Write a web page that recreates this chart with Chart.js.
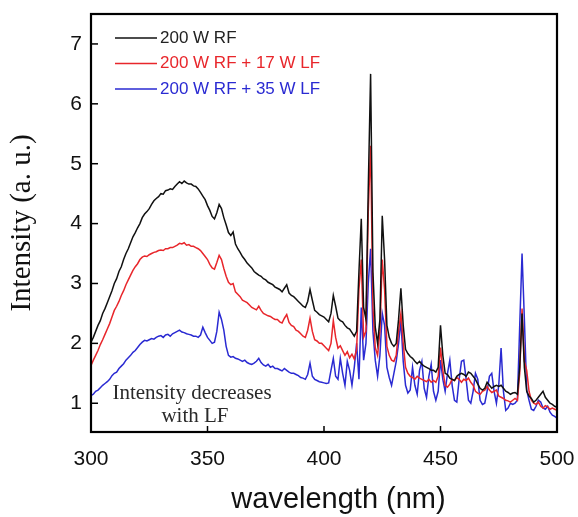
<!DOCTYPE html>
<html>
<head>
<meta charset="utf-8">
<script src="https://cdn.jsdelivr.net/npm/chart.js@4.4.1/dist/chart.umd.min.js"></script>
<style>
  body { margin: 0; background: #fff; }
  canvas { display: block; }
</style>
</head>
<body>
<canvas id="spectrumChart" width="578" height="517"></canvas>
<script>
// Wavelength grid (nm)
const wavelengths = [
    300,301,302,303,304,305,306,307,308,309,
    310,311,312,313,314,315,316,317,318,319,
    320,321,322,323,324,325,326,327,328,329,
    330,331,332,333,334,335,336,337,338,339,
    340,341,342,343,344,345,346,347,348,349,
    350,351,352,353,354,355,356,357,358,359,
    360,361,362,363,364,365,366,367,368,369,
    370,371,372,373,374,375,376,377,378,379,
    380,381,382,383,384,385,386,387,388,389,
    390,391,392,393,394,395,396,397,398,399,
    400,401,402,403,404,405,406,407,408,409,
    410,411,412,413,414,415,416,417,418,419,
    420,421,422,423,424,425,426,427,428,429,
    430,431,432,433,434,435,436,437,438,439,
    440,441,442,443,444,445,446,447,448,449,
    450,451,452,453,454,455,456,457,458,459,
    460,461,462,463,464,465,466,467,468,469,
    470,471,472,473,474,475,476,477,478,479,
    480,481,482,483,484,485,486,487,488,489,
    490,491,492,493,494,495,496,497,498,499,
    500
];

// 200 W RF
const rfOnly = [
    2.02,2.10,2.20,2.30,2.38,2.50,2.58,2.68,2.78,2.88,
    3.00,3.08,3.20,3.28,3.40,3.50,3.58,3.68,3.78,3.85,
    3.93,4.00,4.10,4.16,4.20,4.25,4.32,4.38,4.42,4.45,
    4.50,4.49,4.55,4.56,4.58,4.57,4.62,4.66,4.70,4.67,
    4.71,4.68,4.66,4.66,4.63,4.62,4.58,4.52,4.46,4.40,
    4.30,4.22,4.12,4.08,4.18,4.32,4.25,4.10,3.98,3.85,
    3.80,3.86,3.66,3.58,3.52,3.45,3.40,3.34,3.30,3.26,
    3.20,3.17,3.14,3.12,3.08,3.06,3.02,3.00,2.98,2.94,
    2.92,2.90,2.86,2.92,2.98,2.84,2.80,2.78,2.74,2.70,
    2.66,2.62,2.60,2.70,2.90,2.72,2.55,2.52,2.48,2.46,
    2.44,2.40,2.36,2.50,2.80,2.62,2.42,2.38,2.36,2.30,
    2.26,2.24,2.18,2.12,2.20,3.20,4.08,2.60,2.40,4.60,
    6.50,3.20,2.27,2.00,2.40,4.13,3.40,2.30,2.10,2.00,
    1.95,2.00,2.40,2.92,2.30,1.90,1.83,1.78,1.75,1.70,
    1.66,1.70,1.65,1.62,1.60,1.58,1.55,1.55,1.52,1.60,
    2.30,1.80,1.50,1.48,1.42,1.40,1.38,1.45,1.48,1.50,
    1.48,1.45,1.52,1.50,1.45,1.40,1.32,1.25,1.22,1.25,
    1.35,1.30,1.25,1.28,1.30,1.28,1.30,1.25,1.20,1.18,
    1.15,1.17,1.18,1.15,1.60,2.50,1.60,1.20,1.12,1.08,
    1.02,1.05,1.10,1.15,1.20,1.10,1.05,1.00,0.98,0.95,
    0.93
];

// 200 W RF + 17 W LF
const rfLf17 = [
    1.63,1.72,1.80,1.88,1.98,2.06,2.15,2.24,2.33,2.44,
    2.55,2.62,2.70,2.80,2.88,2.98,3.06,3.14,3.22,3.28,
    3.33,3.40,3.44,3.46,3.45,3.48,3.50,3.52,3.53,3.55,
    3.56,3.55,3.58,3.58,3.60,3.60,3.62,3.64,3.67,3.66,
    3.68,3.64,3.65,3.62,3.62,3.60,3.58,3.55,3.50,3.45,
    3.40,3.32,3.26,3.24,3.35,3.47,3.40,3.25,3.12,3.02,
    2.98,3.00,2.86,2.82,2.78,2.72,2.70,2.68,2.64,2.60,
    2.58,2.56,2.62,2.55,2.50,2.48,2.46,2.45,2.42,2.40,
    2.40,2.36,2.34,2.42,2.48,2.35,2.30,2.28,2.22,2.20,
    2.16,2.12,2.10,2.22,2.42,2.20,2.06,2.04,2.00,2.00,
    1.96,1.92,1.88,2.00,2.38,2.10,1.92,1.96,1.88,1.80,
    1.86,1.76,1.82,1.74,1.90,2.90,3.40,2.10,2.20,4.20,
    5.30,2.60,1.93,1.80,2.20,3.40,2.90,1.95,1.80,1.72,
    1.70,1.80,2.20,2.50,2.00,1.60,1.50,1.45,1.43,1.40,
    1.45,1.42,1.40,1.38,1.36,1.40,1.35,1.38,1.35,1.45,
    1.93,1.55,1.30,1.27,1.32,1.40,1.38,1.43,1.40,1.35,
    1.40,1.38,1.42,1.35,1.30,1.20,1.17,1.15,1.20,1.22,
    1.28,1.22,1.18,1.20,1.22,1.12,1.10,1.08,1.05,1.04,
    1.02,1.05,1.08,1.05,1.50,2.58,1.70,1.55,1.20,1.05,
    1.00,0.98,1.02,0.95,0.92,0.96,0.94,0.90,0.92,0.90,
    0.88
];

// 200 W RF + 35 W LF
const rfLf35 = [
    1.13,1.15,1.20,1.22,1.26,1.30,1.33,1.36,1.40,1.46,
    1.50,1.52,1.58,1.62,1.66,1.72,1.76,1.80,1.85,1.88,
    1.93,1.98,2.02,2.05,2.04,2.06,2.08,2.07,2.10,2.12,
    2.13,2.10,2.14,2.15,2.12,2.16,2.18,2.20,2.22,2.19,
    2.18,2.16,2.15,2.14,2.12,2.12,2.10,2.14,2.27,2.18,
    2.10,2.05,2.00,2.02,2.20,2.52,2.40,2.22,1.95,1.80,
    1.77,1.78,1.75,1.74,1.72,1.70,1.72,1.68,1.66,1.65,
    1.67,1.70,1.75,1.68,1.64,1.62,1.65,1.60,1.62,1.58,
    1.58,1.56,1.54,1.58,1.55,1.52,1.50,1.50,1.48,1.46,
    1.43,1.42,1.40,1.48,1.67,1.45,1.40,1.38,1.36,1.35,
    1.34,1.33,1.34,1.55,1.75,1.45,1.40,1.75,1.50,1.30,
    1.70,1.55,1.30,1.60,2.00,1.40,2.60,1.72,2.00,3.00,
    3.58,2.20,1.72,1.45,1.80,2.50,2.30,1.60,1.43,1.30,
    1.50,1.70,2.00,2.38,1.70,1.30,1.17,1.22,1.60,1.30,
    1.15,1.55,1.70,1.25,1.10,1.45,1.65,1.20,1.05,1.20,
    1.72,1.40,1.20,1.50,1.72,1.30,1.05,1.02,1.40,1.70,
    1.72,1.40,1.05,1.00,1.20,1.50,1.40,1.05,0.98,1.00,
    1.20,1.45,1.50,1.20,1.00,1.30,1.92,1.20,0.88,0.92,
    1.00,0.98,1.00,1.05,2.30,3.50,2.40,1.22,1.05,0.90,
    0.88,0.95,1.05,1.02,0.92,0.90,0.95,0.85,0.80,0.78,
    0.75
];

const seriesLabels = ['200 W RF', '200 W RF + 17 W LF', '200 W RF + 35 W LF'];
const seriesColors = ['#111111', '#e8262b', '#2a2ad2'];
const xTicks = [300, 350, 400, 450, 500];
const yTicks = [1, 2, 3, 4, 5, 6, 7];
const noteLines = ['Intensity decreases', 'with LF'];

function toPoints(values) {
    return values.map((v, i) => ({ x: wavelengths[i], y: v }));
}

// frame, inward ticks, legend and note
const decorPlugin = {
    id: 'decor',
    afterDatasetsDraw(chart) {
        const ctx = chart.ctx;
        const area = chart.chartArea;
        const xs = chart.scales.x;
        const ys = chart.scales.y;
        ctx.save();
        ctx.strokeStyle = '#000';
        ctx.lineWidth = 1.5;
        xTicks.forEach(t => {
            const px = xs.getPixelForValue(t);
            ctx.beginPath();
            ctx.moveTo(px, area.bottom);
            ctx.lineTo(px, area.bottom - 6);
            ctx.stroke();
        });
        yTicks.forEach(t => {
            const py = ys.getPixelForValue(t);
            ctx.beginPath();
            ctx.moveTo(area.left, py);
            ctx.lineTo(area.left + 7, py);
            ctx.stroke();
        });
        ctx.lineWidth = 2.2;
        ctx.strokeRect(area.left, area.top, area.right - area.left, area.bottom - area.top);

        // legend
        ctx.font = '17px "Liberation Sans", Arial, sans-serif';
        ctx.textBaseline = 'middle';
        ctx.textAlign = 'left';
        chart.data.datasets.forEach((ds, i) => {
            const y = area.top + 24 + i * 25.5;
            ctx.strokeStyle = ds.borderColor;
            ctx.lineWidth = 1.5;
            ctx.beginPath();
            ctx.moveTo(area.left + 24, y);
            ctx.lineTo(area.left + 66, y);
            ctx.stroke();
            ctx.fillStyle = i === 0 ? '#222' : ds.borderColor;
            ctx.fillText(ds.label, area.left + 69, y);
        });

        // annotation
        ctx.font = '21px "Liberation Serif", "Times New Roman", serif';
        ctx.fillStyle = '#2a2a2a';
        ctx.textAlign = 'center';
        ctx.fillText(noteLines[0], area.left + 101, area.bottom - 39);
        ctx.fillText(noteLines[1], area.left + 104, area.bottom - 16);
        ctx.restore();
    }
};

new Chart(document.getElementById('spectrumChart').getContext('2d'), {
    type: 'line',
    data: {
        datasets: [rfOnly, rfLf17, rfLf35].map((vals, i) => ({
            label: seriesLabels[i],
            data: toPoints(vals),
            borderColor: seriesColors[i],
            borderWidth: 1.5,
            pointRadius: 0,
            fill: false,
            tension: 0
        }))
    },
    options: {
        responsive: false,
        animation: false,
        layout: { padding: { top: 14, right: 21, left: 0, bottom: 0 } },
        scales: {
            x: {
                type: 'linear',
                min: 300,
                max: 500,
                grid: { display: false },
                border: { display: false },
                afterBuildTicks: s => { s.ticks = xTicks.map(v => ({ value: v })); },
                afterFit: s => { s.height = 85; s.paddingLeft = 0; s.paddingRight = 0; },
                ticks: {
                    padding: 7,
                    color: '#111',
                    font: { family: '"Liberation Sans", Arial, sans-serif', size: 21 }
                },
                title: {
                    display: true,
                    // em space in front nudges the title right, as in the original
                    text: '\u2003wavelength (nm)',
                    color: '#111',
                    padding: { top: 0, bottom: 0 },
                    font: { family: '"Liberation Sans", Arial, sans-serif', size: 29 }
                }
            },
            y: {
                min: 0.52,
                max: 7.5,
                grid: { display: false },
                border: { display: false },
                afterBuildTicks: s => { s.ticks = yTicks.map(v => ({ value: v })); },
                afterFit: s => { s.width = 91; s.paddingTop = 0; s.paddingBottom = 0; },
                ticks: {
                    padding: 1,
                    color: '#111',
                    font: { family: '"Liberation Sans", Arial, sans-serif', size: 21 }
                },
                title: {
                    display: true,
                    text: 'Intensity (a. u.)',
                    color: '#111',
                    padding: { top: 5, bottom: 0 },
                    font: { family: '"Liberation Serif", "Times New Roman", serif', size: 29 }
                }
            }
        },
        plugins: {
            legend: { display: false },
            tooltip: { enabled: false }
        }
    },
    plugins: [decorPlugin]
});
</script>
</body>
</html>
